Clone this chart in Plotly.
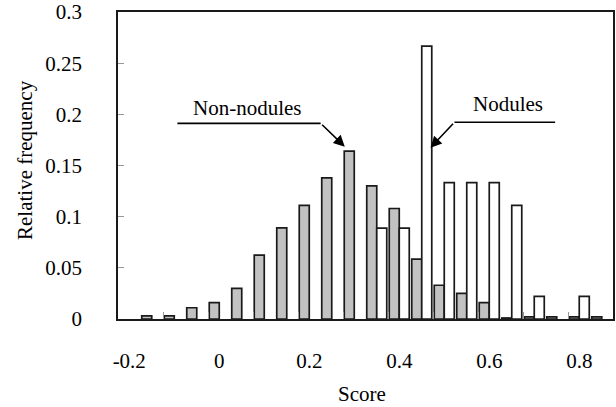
import plotly.graph_objects as go

# Score bins (category centers)
scores = [-0.2, -0.15, -0.1, -0.05, 0.0, 0.05, 0.1, 0.15, 0.2, 0.25, 0.3,
          0.35, 0.4, 0.45, 0.5, 0.55, 0.6, 0.65, 0.7, 0.75, 0.8, 0.85]
non_nodules = [None, 0.003, 0.003, 0.011, 0.016, 0.030, 0.0625, 0.089, 0.111, 0.138, 0.164,
               0.130, 0.108, 0.0586, 0.033, 0.025, 0.016, 0.001, 0.002, 0.002, 0.002, 0.002]
nodules = [None, None, None, None, None, None, None, None, None, None, None,
           0.0889, 0.0889, 0.2667, 0.1333, 0.1333, 0.1333, 0.1111, 0.0222, None, 0.0222, None]
x_tick_vals = [-0.2, 0.0, 0.2, 0.4, 0.6, 0.8]
x_tick_text = ["-0.2", "0", "0.2", "0.4", "0.6", "0.8"]
y_tick_vals = [0, 0.05, 0.1, 0.15, 0.2, 0.25, 0.3]
y_tick_text = ["0", "0.05", "0.1", "0.15", "0.2", "0.25", "0.3"]

FONT = "Liberation Serif"
FS = 21

fig = go.Figure()
fig.add_trace(go.Bar(x=scores, y=non_nodules, name="Non-nodules",
                     marker=dict(color="#c2c2c2", line=dict(color="#1a1a1a", width=1.7))))
fig.add_trace(go.Bar(x=scores, y=nodules, name="Nodules",
                     marker=dict(color="white", line=dict(color="#1a1a1a", width=1.7))))

fig.update_layout(
    width=616, height=407,
    margin=dict(l=118, r=3, t=12, b=88, autoexpand=False),
    paper_bgcolor="white", plot_bgcolor="white",
    barmode="group", bargap=0.11, bargroupgap=0,
    showlegend=False,
    font=dict(family=FONT, size=FS, color="black"),
)

fig.update_xaxes(
    range=[-0.225, 0.875], automargin=False,
    tickmode="array", tickvals=x_tick_vals, ticktext=x_tick_text,
    ticks="", showgrid=False, zeroline=False,
    showline=True, linecolor="#1a1a1a", linewidth=1.8, mirror=True,
    ticklabelstandoff=22, ticklabeloverflow="allow",
    tickfont=dict(family=FONT, size=FS),
    minor=dict(tickmode="array", tickvals=[-0.125 + 0.1 * k for k in range(10)],
               ticks="inside", ticklen=7, tickcolor="#999", tickwidth=1),
)
fig.update_yaxes(
    range=[0, 0.3], automargin=False,
    tickmode="array", tickvals=y_tick_vals, ticktext=y_tick_text,
    ticks="inside", ticklen=6, tickcolor="#999", tickwidth=1,
    showgrid=False, zeroline=False,
    showline=True, linecolor="#1a1a1a", linewidth=1.8, mirror=True,
    ticklabelstandoff=30, ticklabeloverflow="allow",
    tickfont=dict(family=FONT, size=FS),
)

# Axis titles
fig.add_annotation(xref="paper", yref="paper", x=(25 - 118) / 495, y=(319 - 160) / 307,
                   text="Relative frequency", textangle=-90, showarrow=False,
                   xanchor="center", yanchor="middle", font=dict(family=FONT, size=FS))
fig.add_annotation(xref="paper", yref="paper", x=(362 - 118) / 495, y=(319 - 394) / 307,
                   text="Score", showarrow=False,
                   xanchor="center", yanchor="middle", font=dict(family=FONT, size=FS))

# Annotations: labels, leader lines and arrows
fig.add_annotation(x=0.062, y=0.2062, text="Non-nodules", showarrow=False,
                   font=dict(family=FONT, size=FS))
fig.add_shape(type="line", x0=-0.093, x1=0.2253, y0=0.1912, y1=0.1912,
              line=dict(color="black", width=1.6))
fig.add_annotation(x=0.279, y=0.1684, ax=0.2253, ay=0.1912, axref="x", ayref="y",
                   text="", showarrow=True, arrowhead=2, arrowsize=1.4, arrowwidth=1.6,
                   arrowcolor="black")

fig.add_annotation(x=0.6423, y=0.2101, text="Nodules", showarrow=False,
                   font=dict(family=FONT, size=FS))
fig.add_shape(type="line", x0=0.5227, x1=0.7464, y0=0.1922, y1=0.1922,
              line=dict(color="black", width=1.6))
fig.add_annotation(x=0.4695, y=0.1674, ax=0.5227, ay=0.1922, axref="x", ayref="y",
                   text="", showarrow=True, arrowhead=2, arrowsize=1.4, arrowwidth=1.6,
                   arrowcolor="black")

# remove the default 8px page margin so the figure fills the window exactly
fig.write_html("out.html", config={"displayModeBar": False},
               post_script="document.body.style.margin='0';")
